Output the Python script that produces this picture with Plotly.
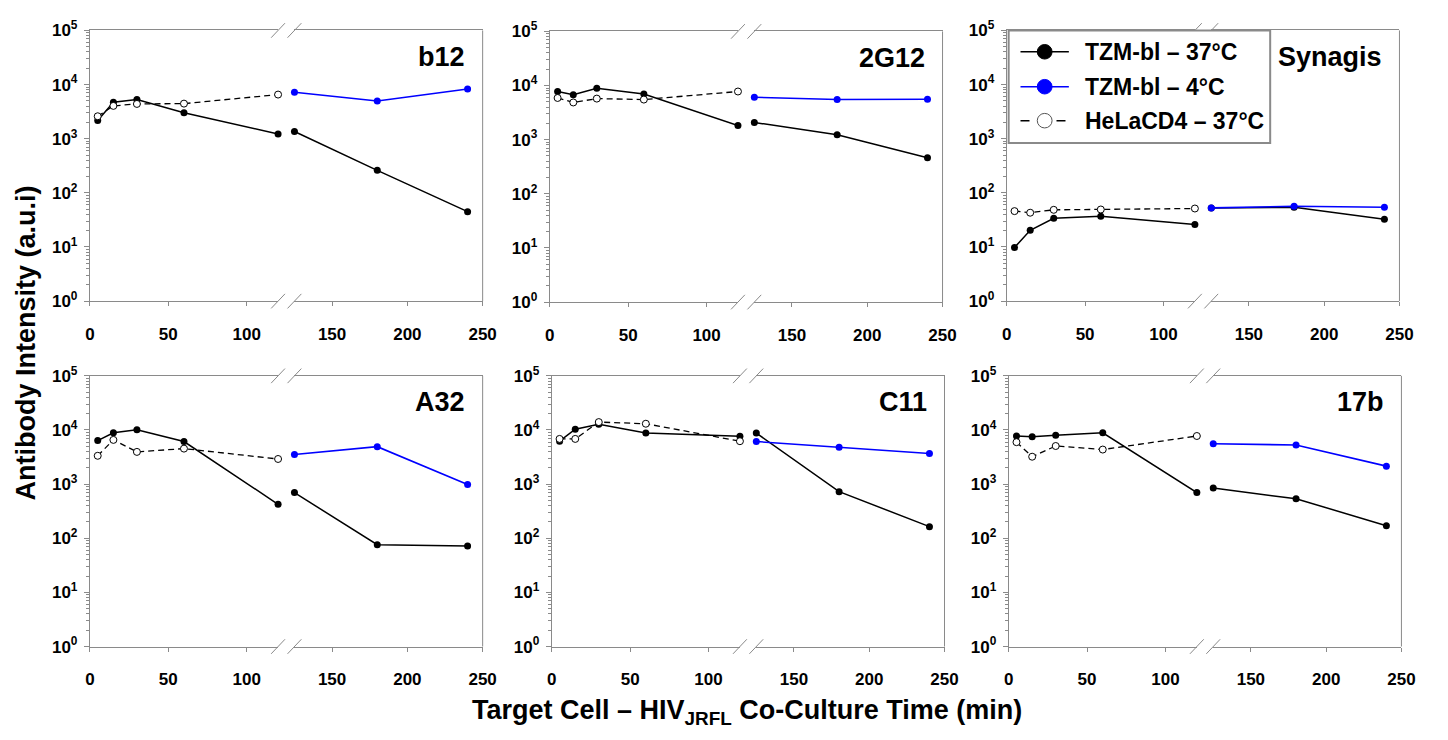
import plotly.graph_objects as go

# ---------------- data ----------------
t_left = [5, 15, 30, 60, 120]
t_right = [125, 180, 240]

panels = ["b12", "2G12", "Synagis", "A32", "C11", "17b"]

tzm37_left = {
    "b12": [2170, 4700, 5320, 3030, 1220],
    "2G12": [7760, 6770, 8910, 6950, 1835],
    "Synagis": [9.8, 20.4, 34, 36.9, 26.1],
    "A32": [6380, 8890, 10050, 6120, 425],
    "C11": [6210, 10330, 12700, 8760, 7640],
    "17b": [7740, 7540, 7960, 8890, 697],
}
tzm37_right = {
    "b12": [1360, 261, 45],
    "2G12": [2080, 1233, 465],
    "Synagis": [52.8, 54.2, 32.6],
    "A32": [697, 76, 72],
    "C11": [8760, 727, 164],
    "17b": [845, 537, 171],
}
tzm4_right = {
    "b12": [7200, 4970, 8270],
    "2G12": [6070, 5510, 5590],
    "Synagis": [52.8, 56.5, 54.2],
    "A32": [3530, 4920, 984],
    "C11": [6120, 4780, 3680],
    "17b": [5570, 5270, 2150],
}
hela_left = {
    "b12": [2600, 4040, 4390, 4450, 6540],
    "2G12": [5900, 4870, 5740, 5510, 7760],
    "Synagis": [46, 43, 48.6, 49.3, 51.4],
    "A32": [3340, 6560, 3940, 4530, 2915],
    "C11": [6840, 6840, 14000, 13050, 6210],
    "17b": [5960, 3210, 5060, 4350, 7740],
}

legend_names = ["TZM-bl \u2013 37\u00b0C", "TZM-bl \u2013 4\u00b0C", "HeLaCD4 \u2013 37\u00b0C"]
y_tickvals = [1, 10, 100, 1000, 10000, 100000]
y_ticktext = ["10<sup>0</sup>", "10<sup>1</sup>", "10<sup>2</sup>", "10<sup>3</sup>",
              "10<sup>4</sup>", "10<sup>5</sup>"]
x_left_ticks = [0, 50, 100]
x_right_ticks = [150, 200, 250]

# ---------------- layout geometry (pixels) ----------------
W, H = 1448, 740
panel_left = [86, 552, 1015, 86, 554, 1017]
panel_top = [19, 20, 19, 375, 375, 375]
PW, PH = 398, 279
SEG = 190.7
GAP = PW - 2 * SEG

AXC = "#8a8a8a"
FONT = "Liberation Sans, Arial, sans-serif"


def fx(px):
    return px / W


def fy(py):
    return 1 - py / H


minor_vals = [m * 10 ** k for k in range(0, 5) for m in range(2, 10)]

fig = go.Figure()
shapes = []
annotations = []

for i, name in enumerate(panels):
    L = panel_left[i]
    T = panel_top[i]
    xl_id = 2 * i + 1
    xr_id = 2 * i + 2
    y_id = i + 1
    xl_name = "xaxis" if xl_id == 1 else f"xaxis{xl_id}"
    xr_name = f"xaxis{xr_id}"
    y_name = "yaxis" if y_id == 1 else f"yaxis{y_id}"
    xl_ref = "x" if xl_id == 1 else f"x{xl_id}"
    xr_ref = f"x{xr_id}"
    y_ref = "y" if y_id == 1 else f"y{y_id}"

    common_x = dict(showline=True, linecolor=AXC, linewidth=1, mirror=True,
                    ticks="outside", ticklen=4, tickcolor=AXC, tickwidth=1,
                    showgrid=False, zeroline=False, tickmode="array",
                    tickfont=dict(size=17, color="black", family=FONT, weight="bold"),
                    ticklabelstandoff=13, anchor=y_ref)
    fig.update_layout({
        xl_name: dict(common_x, domain=[fx(L), fx(L + SEG)], range=[0, 120],
                      tickvals=x_left_ticks),
        xr_name: dict(common_x, domain=[fx(L + SEG + GAP), fx(L + PW)], range=[125, 250],
                      tickvals=x_right_ticks),
        y_name: dict(type="log", range=[0, 5], domain=[fy(T + PH), fy(T)],
                     showline=True, linecolor=AXC, linewidth=1,
                     ticks="outside", ticklen=5, tickcolor=AXC,
                     tickmode="array", tickvals=y_tickvals, ticktext=y_ticktext,
                     tickfont=dict(size=17, color="black", family=FONT, weight="bold"),
                     ticklabelstandoff=3,
                     minor=dict(ticks="outside", ticklen=3, tickcolor=AXC,
                                tickmode="array", tickvals=minor_vals, showgrid=False),
                     showgrid=False, zeroline=False, anchor=xl_ref),
    })

    # traces
    fig.add_trace(go.Scatter(x=t_left, y=tzm37_left[name], xaxis=xl_ref, yaxis=y_ref,
                             mode="lines+markers", line=dict(color="black", width=1.5),
                             marker=dict(color="black", size=7), cliponaxis=False,
                             showlegend=False))
    fig.add_trace(go.Scatter(x=t_right, y=tzm37_right[name], xaxis=xr_ref, yaxis=y_ref,
                             mode="lines+markers", line=dict(color="black", width=1.5),
                             marker=dict(color="black", size=7), cliponaxis=False,
                             showlegend=False))
    fig.add_trace(go.Scatter(x=t_right, y=tzm4_right[name], xaxis=xr_ref, yaxis=y_ref,
                             mode="lines+markers", line=dict(color="#0000ff", width=1.6),
                             marker=dict(color="#0000ff", size=7), cliponaxis=False,
                             showlegend=False))
    fig.add_trace(go.Scatter(x=t_left, y=hela_left[name], xaxis=xl_ref, yaxis=y_ref,
                             mode="lines+markers",
                             line=dict(color="black", width=1.3, dash="6px,4px"),
                             marker=dict(color="white", size=7,
                                         line=dict(color="black", width=1)),
                             cliponaxis=False, showlegend=False))

    # right border
    shapes.append(dict(type="line", xref="paper", yref="paper",
                       x0=fx(L + PW), x1=fx(L + PW), y0=fy(T), y1=fy(T + PH),
                       line=dict(color=AXC, width=1)))
    # break marks
    for cx in (L + SEG, L + SEG + GAP):
        for cy in (T, T + PH):
            shapes.append(dict(type="line", xref="paper", yref="paper",
                               x0=fx(cx - 7), y0=fy(cy + 7.5), x1=fx(cx + 7), y1=fy(cy - 7.5),
                               line=dict(color=AXC, width=1)))

    # panel label
    annotations.append(dict(text=name, xref="paper", yref="paper",
                            x=fx(L + PW - 16), y=fy(T + 27), xanchor="right", yanchor="middle",
                            showarrow=False,
                            font=dict(size=27, color="black", family=FONT, weight="bold")))

# legend (drawn manually inside Synagis panel)
LX0, LY0, LX1, LY1 = 1017, 19, 1282, 135
shapes.append(dict(type="rect", xref="paper", yref="paper",
                   x0=fx(LX0), x1=fx(LX1), y0=fy(LY1), y1=fy(LY0),
                   line=dict(color="#8a8a8a", width=2), fillcolor="white"))
leg_y = [41, 77, 112]
leg_styles = [
    dict(lc="black", dash="solid", fill="black", edge="black"),
    dict(lc="#0000ff", dash="solid", fill="#0000ff", edge="#0000ff"),
    dict(lc="black", dash="dash", fill="white", edge="#555555"),
]
for yy, st, lab in zip(leg_y, leg_styles, legend_names):
    shapes.append(dict(type="line", xref="paper", yref="paper",
                       x0=fx(1029), x1=fx(1078), y0=fy(yy), y1=fy(yy),
                       line=dict(color=st["lc"], width=1.5, dash=st["dash"])))
    r = 7.5
    shapes.append(dict(type="circle", xref="paper", yref="paper",
                       x0=fx(1053.5 - r), x1=fx(1053.5 + r), y0=fy(yy + r), y1=fy(yy - r),
                       fillcolor=st["fill"], line=dict(color=st["edge"], width=1)))
    annotations.append(dict(text=lab, xref="paper", yref="paper",
                            x=fx(1092), y=fy(yy), xanchor="left", yanchor="middle",
                            showarrow=False,
                            font=dict(size=23, color="black", family=FONT, weight="bold")))

# axis titles
annotations.append(dict(text="Antibody Intensity (a.u.i)", xref="paper", yref="paper",
                        x=fx(21), y=fy(341), textangle=-90, showarrow=False,
                        xanchor="center", yanchor="middle",
                        font=dict(size=27, color="black", family=FONT, weight="bold")))
annotations.append(dict(text="Target Cell \u2013 HIV<sub>JRFL</sub> Co-Culture Time (min)",
                        xref="paper", yref="paper", x=fx(752), y=fy(721),
                        showarrow=False, xanchor="center", yanchor="middle",
                        font=dict(size=27, color="black", family=FONT, weight="bold")))

fig.update_layout(width=W, height=H, autosize=False,
                  margin=dict(l=0, r=0, t=0, b=0),
                  paper_bgcolor="white", plot_bgcolor="white",
                  font=dict(family=FONT, color="black", weight="bold"),
                  shapes=shapes, annotations=annotations, showlegend=False)

page_fix = ("var d=document.documentElement,b=document.body;"
            "d.style.margin='0';d.style.padding='0';d.style.overflow='hidden';"
            "b.style.margin='0';b.style.padding='0';b.style.overflow='hidden';")

fig.write_html("out.html", post_script=page_fix)
